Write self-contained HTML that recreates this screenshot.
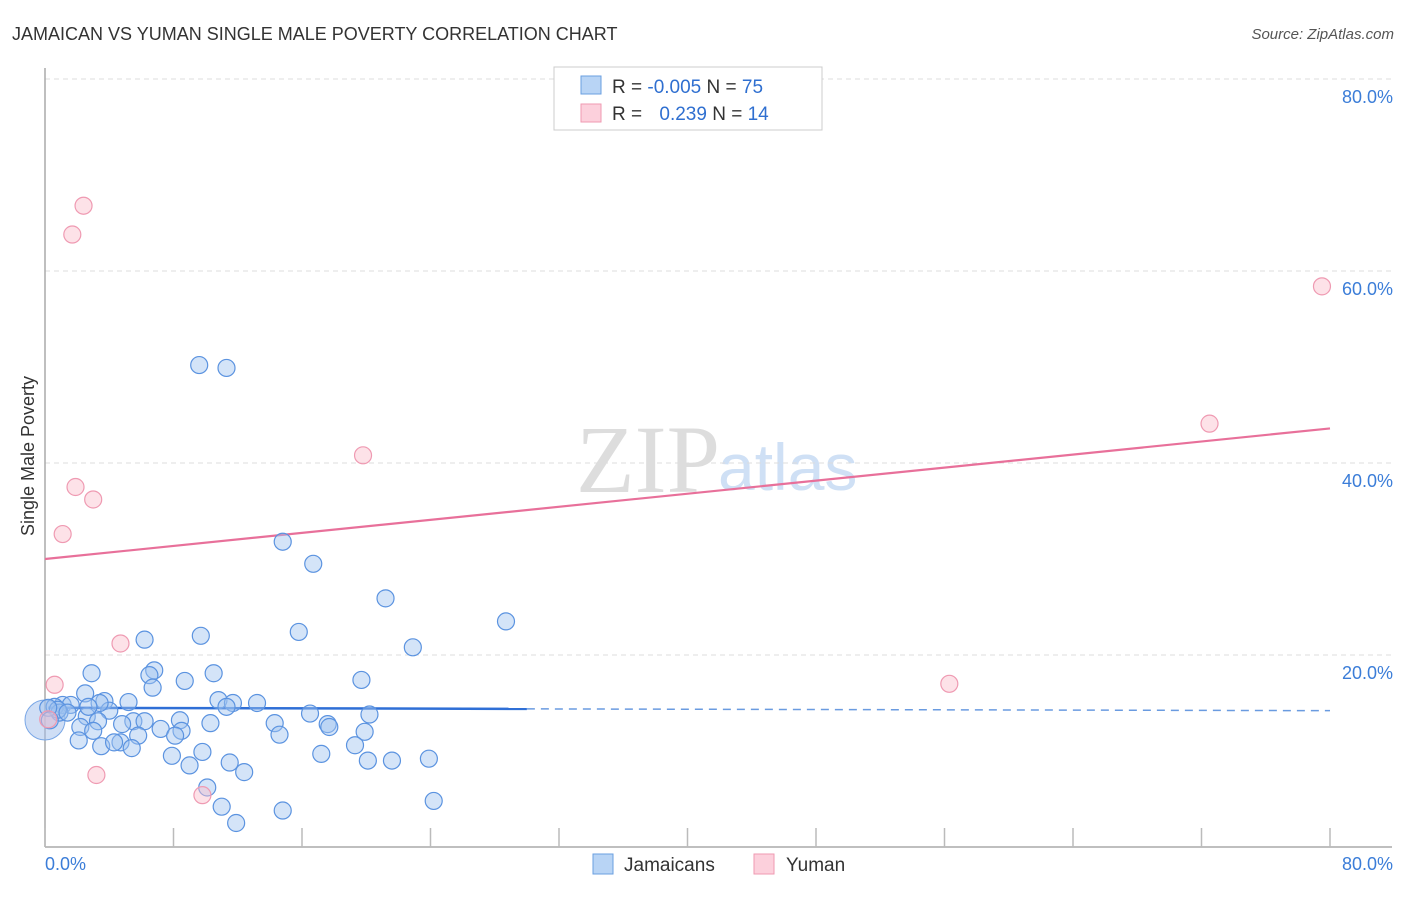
<!DOCTYPE html>
<html><head><meta charset="utf-8"><style>
body{margin:0;background:#fff;font-family:"Liberation Sans",sans-serif}
</style></head><body>
<svg width="1406" height="892" xmlns="http://www.w3.org/2000/svg" font-family="Liberation Sans, sans-serif">
<text x="12" y="40" font-size="18" fill="#333">JAMAICAN VS YUMAN SINGLE MALE POVERTY CORRELATION CHART</text>
<text x="1394" y="39" font-size="15" fill="#555" text-anchor="end" font-style="italic">Source: ZipAtlas.com</text>
<text x="720" y="492" font-size="96" fill="#ddd" text-anchor="end" font-family="Liberation Serif, serif">ZIP</text>
<text x="718" y="490" font-size="66" fill="#cfe0f5">atlas</text>
<g id="grid"></g>
<g id="axes"></g>
<text x="34" y="456" font-size="18" fill="#333" text-anchor="middle" transform="rotate(-90 34 456)">Single Male Poverty</text>
<text x="45" y="870" font-size="18" fill="#3b7dd8">0.0%</text>
<text x="1393" y="870" font-size="18" fill="#3b7dd8" text-anchor="end">80.0%</text>
<g id="trend"></g>
<g id="points"></g>
<g>
<rect x="554" y="67" width="268" height="63" fill="#fff" stroke="#ccc"/>
<rect x="581" y="76" width="20" height="18" fill="#b8d4f5" stroke="#6a9fe0"/>
<rect x="581" y="104" width="20" height="18" fill="#fcd0dc" stroke="#ef9ab2"/>
<text x="612" y="93" font-size="19" fill="#333">R = <tspan fill="#2f6fd0">-0.005</tspan>   N = <tspan fill="#2f6fd0">75</tspan></text>
<text x="612" y="120" font-size="19" fill="#333">R =  <tspan fill="#2f6fd0" dx="12">0.239</tspan>   N =  <tspan fill="#2f6fd0">14</tspan></text>
</g>
<g>
<rect x="593" y="854" width="20" height="20" fill="#b8d4f5" stroke="#6a9fe0"/>
<text x="624" y="871" font-size="19" fill="#333">Jamaicans</text>
<rect x="754" y="854" width="20" height="20" fill="#fcd0dc" stroke="#ef9ab2"/>
<text x="786" y="871" font-size="19" fill="#333">Yuman</text>
</g>
</svg>
<script>
const blueX=[9.6,11.3,14.8,16.7,21.2,28.7,6.2,9.7,15.8,22.9,6.8,2.9,10.5,6.5,19.7,8.7,6.7,2.5,10.8,3.7,11.7,13.2,11.3,5.2,1.1,1.6,0.6,4.0,0.9,20.2,16.5,2.6,3.3,5.5,6.2,8.4,10.3,14.3,17.6,17.7,4.8,2.2,3.0,7.2,8.5,8.1,5.8,14.6,19.9,2.1,3.5,4.7,4.3,5.4,9.8,17.2,19.3,7.9,11.5,20.1,21.6,23.9,9.0,12.4,10.1,11.0,24.2,14.8,11.9,0.8,0.2,1.4,0.3,3.4,2.7];
const blueY=[50.2,49.9,31.8,29.5,25.9,23.5,21.6,22.0,22.4,20.8,18.4,18.1,18.1,17.9,17.4,17.3,16.6,16.0,15.3,15.2,15.0,15.0,14.6,15.1,14.8,14.8,14.6,14.2,14.0,13.8,13.9,13.6,13.1,13.1,13.1,13.2,12.9,12.9,12.8,12.5,12.8,12.5,12.1,12.3,12.1,11.6,11.6,11.7,12.0,11.1,10.5,10.9,10.9,10.3,9.9,9.7,10.6,9.5,8.8,9.0,9.0,9.2,8.5,7.8,6.2,4.2,4.8,3.8,2.5,14.3,14.5,14.0,13.2,15.0,14.6];
const pinkX=[2.4,1.7,79.5,72.5,19.8,1.9,3.0,1.1,4.7,0.6,56.3,3.2,9.8,0.2];
const pinkY=[66.8,63.8,58.4,44.1,40.8,37.5,36.2,32.6,21.2,16.9,17.0,7.5,5.4,13.3];
const xTicks=[0,8,16,24,32,40,48,56,64,72,80];
const yGrid=[20,40,60,80];
const yGridLabels=["20.0%","40.0%","60.0%","80.0%"];
const blueTrend=[14.5,14.2];
const pinkTrend=[30.0,43.6];
const NS="http://www.w3.org/2000/svg";
const sx=v=>45+v/80*1285, sy=v=>847-v/20*192;
function mk(tag,attrs,parent){const e=document.createElementNS(NS,tag);for(const k in attrs)e.setAttribute(k,attrs[k]);parent.appendChild(e);return e;}
const grid=document.getElementById('grid'),axes=document.getElementById('axes'),trend=document.getElementById('trend'),pts=document.getElementById('points');
yGrid.forEach((v,i)=>{
 const l=mk('line',{x1:45,x2:1392,y1:sy(v),y2:sy(v),stroke:'#ddd','stroke-dasharray':'5,4'},grid);
 
 
 const t=mk('text',{x:1393,y:sy(v)+24,'font-size':18,fill:'#3b7dd8','text-anchor':'end'},grid);
 t.textContent=yGridLabels[i];
 
 
});
const ya=mk('line',{x1:45,x2:45,y1:68,y2:847,stroke:'#aaa','stroke-width':1.5},axes);


const xa=mk('line',{x1:45,x2:1392,y1:847,y2:847,stroke:'#aaa','stroke-width':1.5},axes);


xTicks.forEach(v=>{const t=mk('line',{x1:sx(v),x2:sx(v),y1:828,y2:847,stroke:'#bbb','stroke-width':1.5},axes);
 
 });
const big=mk('circle',{cx:45,cy:720,r:20,fill:'rgba(160,190,235,0.5)',stroke:'#7aa7e6'},pts);


blueX.forEach((x,i)=>{const c=mk('circle',{cx:sx(x),cy:sy(blueY[i]),r:8.5,fill:'rgba(160,195,240,0.45)',stroke:'#5b93e0','stroke-width':1.2},pts);
 
 });
pinkX.forEach((x,i)=>{const c=mk('circle',{cx:sx(x),cy:sy(pinkY[i]),r:8.5,fill:'rgba(250,190,205,0.45)',stroke:'#ef9ab2','stroke-width':1.2},pts);
 
 });
const bY=x=>blueTrend[0]+(blueTrend[1]-blueTrend[0])*x/80;
const b1=mk('line',{x1:sx(0.2),y1:sy(bY(0.2)),x2:sx(30),y2:sy(bY(30)),stroke:'#2f6fd6','stroke-width':2.5},trend);


const b2=mk('line',{x1:sx(30),y1:sy(bY(30)),x2:sx(80),y2:sy(bY(80)),stroke:'#6a9be0','stroke-width':1.5,'stroke-dasharray':'8,6'},trend);


const p1=mk('line',{x1:sx(0),y1:sy(pinkTrend[0]),x2:sx(80),y2:sy(pinkTrend[1]),stroke:'#e8709a','stroke-width':2.2},trend);


</script>
</body></html>
